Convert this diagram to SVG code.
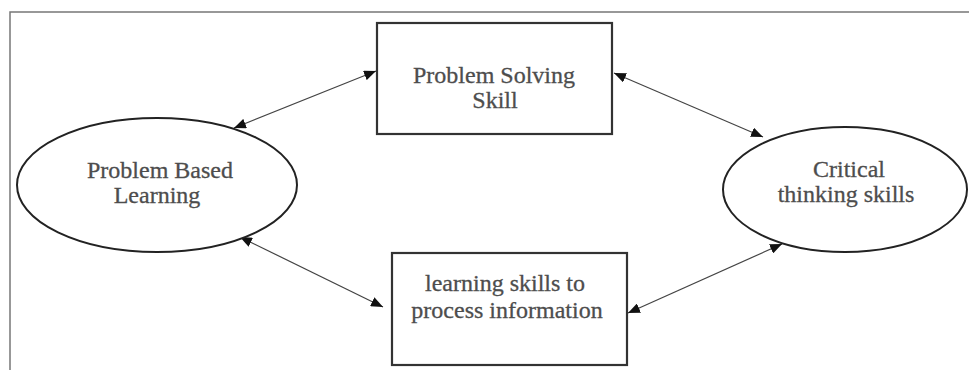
<svg xmlns="http://www.w3.org/2000/svg" width="969" height="370" viewBox="0 0 969 370">
<defs>
<marker id="ah" viewBox="0 0 12 10" refX="12" refY="5" markerWidth="12" markerHeight="10" markerUnits="userSpaceOnUse" orient="auto-start-reverse">
<path d="M0,0 L12,5 L0,10 Z" fill="#111"/>
</marker>
<style>
.frame{fill:none;stroke:#777;stroke-width:1.5}
.box{fill:#fff;stroke:#333;stroke-width:2.2}
.ell{fill:#fff;stroke:#222;stroke-width:2}
.conn{fill:none;stroke:#444;stroke-width:1.2;marker-start:url(#ah);marker-end:url(#ah)}
.t{font-family:"Liberation Serif","Times New Roman",serif;font-size:24px;fill:#4d4d4d;text-anchor:middle;stroke:#4d4d4d;stroke-width:0.3}
</style>
</defs>
<rect width="969" height="370" fill="#fff"/>
<path class="frame" d="M10,370 L10,12 L969,12"/>
<g id="connectors">
<line class="conn" x1="234" y1="128" x2="376" y2="71"/>
<line class="conn" x1="614" y1="73" x2="763" y2="137"/>
<line class="conn" x1="240" y1="237" x2="383" y2="307"/>
<line class="conn" x1="628" y1="313" x2="782" y2="244"/>
</g>
<g id="pbl">
<ellipse class="ell" cx="157" cy="185" rx="140" ry="67"/>
<text class="t" x="160" y="178">Problem Based</text>
<text class="t" x="157" y="203">Learning</text>
</g>
<g id="pss">
<rect class="box" x="377" y="23" width="235" height="111"/>
<text class="t" x="494" y="83">Problem Solving</text>
<text class="t" x="495" y="108">Skill</text>
</g>
<g id="cts">
<ellipse class="ell" cx="845" cy="189.5" rx="122" ry="62.5"/>
<text class="t" x="849" y="177">Critical</text>
<text class="t" x="846" y="202">thinking skills</text>
</g>
<g id="lsp">
<rect class="box" x="392" y="253" width="235" height="112"/>
<text class="t" x="505" y="291">learning skills to</text>
<text class="t" x="507" y="318">process information</text>
</g>
</svg>
